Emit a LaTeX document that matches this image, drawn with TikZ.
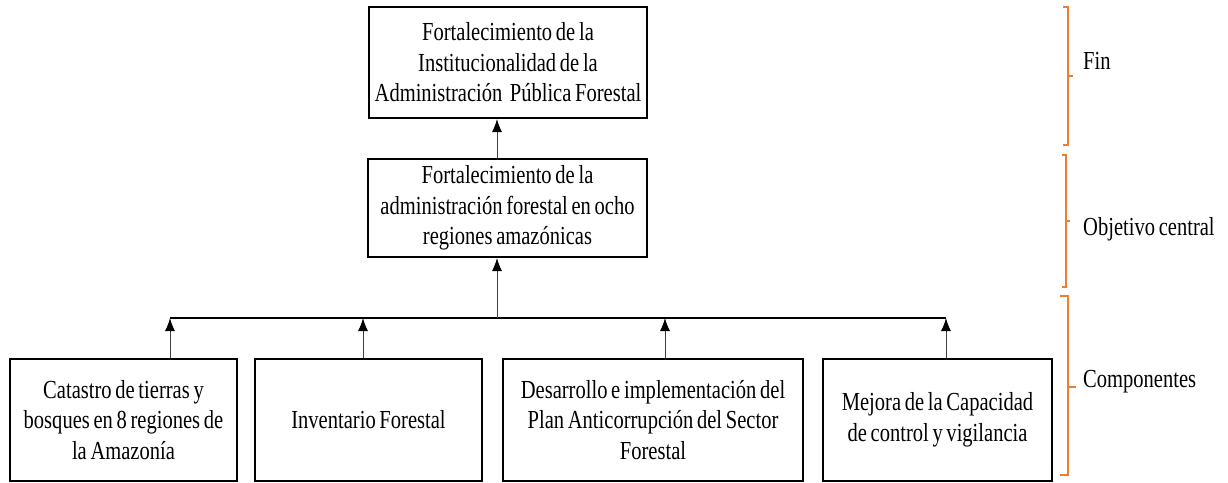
\documentclass[tikz,border=0pt]{standalone}
\usepackage{fontspec}
\newfontfamily\tnr[FakeStretch=0.79,WordSpace=0.72]{Liberation Serif}
\usetikzlibrary{arrows.meta}
\definecolor{brk}{HTML}{ED7D31}
\begin{document}
\begin{tikzpicture}[x=1pt,y=-1pt,
  every node/.style={font=\tnr\fontsize{26}{30.5}\selectfont},
  box/.style={draw=black,line width=2pt,inner sep=0pt,align=center},
  arr/.style={draw=black!75,line width=1pt,-{Latex[length=13pt,width=10pt,black]}},
  bus/.style={draw=black,line width=1.4pt},
  brace/.style={draw=brk,line width=2.5pt},
  lab/.style={anchor=base west,inner sep=0pt}]
\useasboundingbox (0,0) rectangle (1228,482);
\node[box,minimum width=278pt,minimum height=111pt] (top) at (508,62.5)
  {Fortalecimiento de la\\Institucionalidad de la\\Administración\ \ Pública Forestal};
\node[box,minimum width=279pt,minimum height=98pt] (mid) at (507.5,208)
  {Fortalecimiento de la\\administración forestal en ocho\\regiones amazónicas};
\node[box,minimum width=227pt,minimum height=122pt] (b1) at (123.5,420)
  {Catastro de tierras y\\bosques en 8 regiones de\\la Amazonía};
\node[box,minimum width=227pt,minimum height=122pt] (b2) at (368.5,420)
  {Inventario Forestal};
\node[box,minimum width=300pt,minimum height=122pt] (b3) at (653,420)
  {Desarrollo e implementación del\\Plan Anticorrupción del Sector\\Forestal};
\node[box,minimum width=229pt,minimum height=122pt] (b4) at (937.5,420)
  {Mejora de la Capacidad\\de control y vigilancia};
% bus junctions
\coordinate (j1) at (170,318);
\coordinate (j2) at (363,318);
\coordinate (j3) at (665,318);
\coordinate (j4) at (946,318);
\coordinate (jm) at (497,318);
\draw[bus] (j1) -- (j4);
\draw[arr] (b1.north -| j1) -- (j1);
\draw[arr] (b2.north -| j2) -- (j2);
\draw[arr] (b3.north -| j3) -- (j3);
\draw[arr] (b4.north -| j4) -- (j4);
\draw[arr] (jm) -- (mid.south -| jm);
\draw[arr] (mid.north -| jm) -- (top.south -| jm);
% brackets
\draw[brace] (1063,7) -- (1068,7) -- (1068,145) -- (1063,145);
\draw[brace] (1068,76) -- (1073,76);
\draw[brace] (1062,155) -- (1066,155) -- (1066,287) -- (1062,287);
\draw[brace] (1066,221) -- (1070,221);
\draw[brace] (1060,296) -- (1068,296) -- (1068,475) -- (1060,475);
\draw[brace] (1068,387) -- (1076,387);
\node[lab] (lfin) at (1083,69) {Fin};
\node[lab] (lobj) at (1083,235) {Objetivo central};
\node[lab] (lcom) at (1083,387) {Componentes};
\end{tikzpicture}
\end{document}
